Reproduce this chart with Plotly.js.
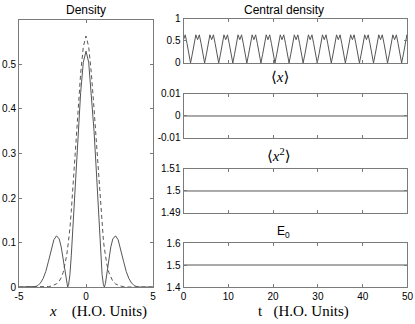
<!DOCTYPE html>
<html>
<head>
<meta charset="utf-8">
<script src="https://cdn.plot.ly/plotly-3.0.1.min.js"></script>
<style>
  body { margin: 0; background: #fff; }
  #plot { width: 415px; height: 324px; }
</style>
</head>
<body>
<div id="plot"></div>
<script>
// density profile, x in H.O. units
const densX = [-5, -4.5, -4, -3.8, -3.6, -3.4, -3.2, -3.0, -2.8, -2.6, -2.4, -2.2, -2.0, -1.85, -1.7, -1.55, -1.45, -1.37, -1.3, -1.2, -1.1, -1.0, -0.8, -0.6, -0.4, -0.2,
               0, 0.2, 0.4, 0.6, 0.8, 1.0, 1.1, 1.2, 1.3, 1.37, 1.45, 1.55, 1.7, 1.85, 2.0, 2.2, 2.4, 2.6, 2.8, 3.0, 3.2, 3.4, 3.6, 3.8, 4, 4.5, 5];
const densSolid = [0, 0, 0, 0.001, 0.003, 0.009, 0.019, 0.035, 0.058, 0.085, 0.106, 0.115, 0.108, 0.09, 0.062, 0.028, 0.008, 0, 0.005, 0.028, 0.07, 0.125, 0.245, 0.35, 0.437, 0.505,
                   0.53, 0.505, 0.437, 0.35, 0.245, 0.125, 0.07, 0.028, 0.005, 0, 0.008, 0.028, 0.062, 0.09, 0.108, 0.115, 0.106, 0.085, 0.058, 0.035, 0.019, 0.009, 0.003, 0.001, 0, 0, 0];
const densDashed = [0, 0, 0, 0, 0, 0, 0, 0, 0.001, 0.002, 0.004, 0.007, 0.013, 0.021, 0.033, 0.052, 0.07, 0.087, 0.104, 0.132, 0.17, 0.215, 0.31, 0.40, 0.48, 0.54,
                    0.564, 0.54, 0.48, 0.40, 0.31, 0.215, 0.17, 0.132, 0.104, 0.087, 0.07, 0.052, 0.033, 0.021, 0.013, 0.007, 0.004, 0.002, 0.001, 0, 0, 0, 0, 0, 0, 0, 0];

// central density vs time
const tCentral = [0, 0.39, 0.79, 1.18, 1.57, 1.96, 2.36, 2.75, 3.14, 3.53, 3.93, 4.32, 4.71, 5.11, 5.50, 5.89,
                  6.28, 6.68, 7.07, 7.46, 7.85, 8.25, 8.64, 9.03, 9.42, 9.82, 10.21, 10.60, 11.00, 11.39, 11.78, 12.17,
                  12.57, 12.96, 13.35, 13.74, 14.14, 14.53, 14.92, 15.32, 15.71, 16.10, 16.49, 16.89, 17.28, 17.67, 18.06, 18.46,
                  18.85, 19.24, 19.63, 20.03, 20.42, 20.81, 21.21, 21.60, 21.99, 22.38, 22.78, 23.17, 23.56, 23.95, 24.35, 24.74,
                  25.13, 25.53, 25.92, 26.31, 26.70, 27.10, 27.49, 27.88, 28.27, 28.67, 29.06, 29.45, 29.85, 30.24, 30.63, 31.02,
                  31.42, 31.81, 32.20, 32.59, 32.99, 33.38, 33.77, 34.16, 34.56, 34.95, 35.34, 35.74, 36.13, 36.52, 36.91, 37.31,
                  37.70, 38.09, 38.48, 38.88, 39.27, 39.66, 40.06, 40.45, 40.84, 41.23, 41.63, 42.02, 42.41, 42.80, 43.20, 43.59,
                  43.98, 44.37, 44.77, 45.16, 45.55, 45.95, 46.34, 46.73, 47.12, 47.52, 47.91, 48.30, 48.69, 49.09, 49.48, 49.87, 50.0];
const nCentral = [0.53, 0.64, 0.44, 0.2, 0, 0.2, 0.44, 0.64, 0.53, 0.64, 0.44, 0.2, 0, 0.2, 0.44, 0.64,
                  0.53, 0.64, 0.44, 0.2, 0, 0.2, 0.44, 0.64, 0.53, 0.64, 0.44, 0.2, 0, 0.2, 0.44, 0.64,
                  0.53, 0.64, 0.44, 0.2, 0, 0.2, 0.44, 0.64, 0.53, 0.64, 0.44, 0.2, 0, 0.2, 0.44, 0.64,
                  0.53, 0.64, 0.44, 0.2, 0, 0.2, 0.44, 0.64, 0.53, 0.64, 0.44, 0.2, 0, 0.2, 0.44, 0.64,
                  0.53, 0.64, 0.44, 0.2, 0, 0.2, 0.44, 0.64, 0.53, 0.64, 0.44, 0.2, 0, 0.2, 0.44, 0.64,
                  0.53, 0.64, 0.44, 0.2, 0, 0.2, 0.44, 0.64, 0.53, 0.64, 0.44, 0.2, 0, 0.2, 0.44, 0.64,
                  0.53, 0.64, 0.44, 0.2, 0, 0.2, 0.44, 0.64, 0.53, 0.64, 0.44, 0.2, 0, 0.2, 0.44, 0.64,
                  0.53, 0.64, 0.44, 0.2, 0, 0.2, 0.44, 0.64, 0.53, 0.64, 0.44, 0.2, 0, 0.2, 0.44, 0.64, 0.60];

// conserved quantities
const tFlat = [0, 50];
const meanX = [0, 0];
const meanX2 = [1.5, 1.5];
const energy0 = [1.5, 1.5];

const lineGrey = '#555555';
const frameGrey = '#7a7a7a';
const tickFont = {family: 'Liberation Sans, Arial, sans-serif', size: 10, color: '#000'};

function makeAxis(domain, anchor, range, tickvals, ticktext, showLabels) {
    return {
        domain: domain,
        anchor: anchor,
        range: range,
        tickvals: tickvals,
        ticktext: ticktext,
        showticklabels: showLabels,
        ticks: 'inside',
        ticklen: 3,
        tickcolor: frameGrey,
        showline: true,
        linecolor: frameGrey,
        linewidth: 1,
        mirror: 'ticks',
        showgrid: false,
        zeroline: false,
        tickfont: tickFont,
        fixedrange: true
    };
}

function generatePlot() {
    const rightDom = [0.4422, 0.9819];

    const traces = [
        {x: densX, y: densSolid, xaxis: 'x', yaxis: 'y', mode: 'lines',
         line: {color: lineGrey, width: 1}},
        {x: densX, y: densDashed, xaxis: 'x', yaxis: 'y', mode: 'lines',
         line: {color: lineGrey, width: 1, dash: '4px,3px'}},
        {x: tCentral, y: nCentral, xaxis: 'x2', yaxis: 'y2', mode: 'lines',
         line: {color: lineGrey, width: 1}},
        {x: tFlat, y: meanX, xaxis: 'x3', yaxis: 'y3', mode: 'lines',
         line: {color: lineGrey, width: 1}},
        {x: tFlat, y: meanX2, xaxis: 'x4', yaxis: 'y4', mode: 'lines',
         line: {color: lineGrey, width: 1}},
        {x: tFlat, y: energy0, xaxis: 'x5', yaxis: 'y5', mode: 'lines',
         line: {color: lineGrey, width: 1}}
    ];

    const tTicks = [0, 10, 20, 30, 40, 50];
    const tText = ['0', '10', '20', '30', '40', '50'];

    const layout = {
        width: 415,
        height: 324,
        margin: {l: 0, r: 0, t: 0, b: 0},
        paper_bgcolor: '#ffffff',
        plot_bgcolor: '#ffffff',
        showlegend: false,
        xaxis: makeAxis([0.0458, 0.3687], 'y', [-5, 5], [-5, 0, 5], ['-5', '0', '5'], true),
        yaxis: makeAxis([0.1142, 0.9383], 'x', [0, 0.6], [0, 0.1, 0.2, 0.3, 0.4, 0.5], ['0', '0.1', '0.2', '0.3', '0.4', '0.5'], true),
        xaxis2: makeAxis(rightDom, 'y2', [0, 50], tTicks, tText, false),
        yaxis2: makeAxis([0.8056, 0.9414], 'x2', [0, 1], [0, 0.5, 1], ['0', '0.5', '1'], true),
        xaxis3: makeAxis(rightDom, 'y3', [0, 50], tTicks, tText, false),
        yaxis3: makeAxis([0.5741, 0.7099], 'x3', [-0.01, 0.01], [-0.01, 0, 0.01], ['-0.01', '0', '0.01'], true),
        xaxis4: makeAxis(rightDom, 'y4', [0, 50], tTicks, tText, false),
        yaxis4: makeAxis([0.3426, 0.4784], 'x4', [1.49, 1.51], [1.49, 1.5, 1.51], ['1.49', '1.5', '1.51'], true),
        xaxis5: makeAxis(rightDom, 'y5', [0, 50], tTicks, tText, true),
        yaxis5: makeAxis([0.1142, 0.2500], 'x5', [1.4, 1.6], [1.4, 1.5, 1.6], ['1.4', '1.5', '1.6'], true),
        annotations: [
            {text: 'Density', x: 0.2072, y: 0.969},
            {text: 'Central density', x: 0.684, y: 0.969},
            {text: '⟨<i>x</i>⟩', x: 0.675, y: 0.761, font: {family: 'Liberation Serif, DejaVu Serif, serif', size: 15}},
            {text: '⟨<i>x</i><sup>2</sup>⟩', x: 0.672, y: 0.523, font: {family: 'Liberation Serif, DejaVu Serif, serif', size: 15}},
            {text: 'E<sub>0</sub>', x: 0.682, y: 0.283},
            {text: '<i>x</i>\u00a0\u00a0\u00a0\u00a0(H.O. Units)', x: 0.237, y: 0.04,
             font: {family: 'Liberation Serif, Times New Roman, serif', size: 15}},
            {text: 't\u00a0\u00a0\u00a0(H.O. Units)', x: 0.7325, y: 0.04,
             font: {family: 'Liberation Serif, Times New Roman, serif', size: 15}}
        ].map(a => Object.assign({
            xref: 'paper', yref: 'paper', showarrow: false,
            xanchor: 'center', yanchor: 'middle',
            font: {family: 'Liberation Sans, Arial, sans-serif', size: 12, color: '#000'}
        }, a, a.font ? {font: Object.assign({color: '#000'}, a.font)} : {}))
    };

    Plotly.newPlot('plot', traces, layout, {displayModeBar: false, staticPlot: true});
}

generatePlot();
</script>
</body>
</html>
